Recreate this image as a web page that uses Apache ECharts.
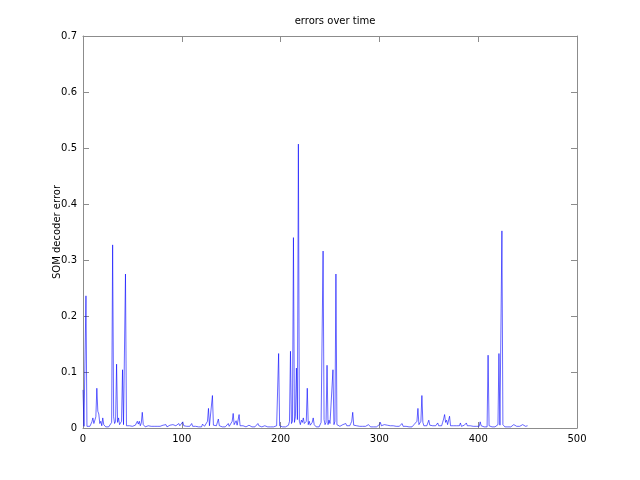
<!DOCTYPE html>
<html>
<head>
<meta charset="utf-8">
<script src="https://cdn.jsdelivr.net/npm/echarts@6/dist/echarts.min.js"></script>
<style>html,body{margin:0;padding:0;background:#fff}#c{width:640px;height:480px}</style>
</head>
<body>
<div id="c"></div>
<script>
var title = "errors over time";
var yLabel = "SOM decoder error";
var xTicks = [0, 100, 200, 300, 400, 500];
var yTicks = [0, 0.1, 0.2, 0.3, 0.4, 0.5, 0.6, 0.7];
var errors = [
0.068,0.003,0.005,0.236,0.003,0.002,0.004,0.003,0.006,0.011,
0.018,0.008,0.010,0.020,0.071,0.030,0.025,0.008,0.012,0.004,
0.018,0.006,0.003,0.002,0.004,0.003,0.002,0.005,0.003,0.010,
0.327,0.020,0.008,0.012,0.114,0.010,0.018,0.006,0.004,0.012,
0.104,0.006,0.003,0.275,0.004,0.003,0.002,0.004,0.003,0.002,
0.003,0.004,0.006,0.005,0.008,0.012,0.007,0.012,0.004,0.009,
0.028,0.006,0.003,0.002,0.003,0.002,0.004,0.003,0.002,0.003,
0.002,0.004,0.003,0.005,0.002,0.003,0.004,0.002,0.003,0.002,
0.003,0.005,0.002,0.003,0.006,0.002,0.004,0.003,0.005,0.003,
0.004,0.006,0.003,0.007,0.004,0.006,0.003,0.008,0.004,0.005,
0.003,0.011,0.004,0.006,0.002,0.003,0.004,0.002,0.003,0.004,
0.008,0.003,0.002,0.004,0.003,0.002,0.003,0.002,0.004,0.003,
0.002,0.007,0.004,0.003,0.006,0.004,0.012,0.035,0.004,0.003,
0.006,0.058,0.005,0.003,0.002,0.004,0.006,0.016,0.004,0.002,
0.003,0.002,0.004,0.003,0.002,0.003,0.004,0.008,0.003,0.002,
0.004,0.012,0.026,0.006,0.004,0.013,0.005,0.008,0.024,0.004,
0.002,0.003,0.004,0.002,0.003,0.002,0.004,0.003,0.005,0.006,
0.003,0.002,0.004,0.003,0.002,0.004,0.005,0.008,0.004,0.003,
0.004,0.002,0.003,0.005,0.004,0.002,0.003,0.002,0.004,0.003,
0.002,0.003,0.004,0.002,0.003,0.002,0.004,0.006,0.133,0.004,
0.002,0.003,0.002,0.004,0.003,0.002,0.003,0.004,0.005,0.012,
0.137,0.008,0.012,0.340,0.010,0.020,0.107,0.015,0.507,0.012,
0.006,0.014,0.010,0.018,0.008,0.005,0.012,0.071,0.006,0.012,
0.005,0.004,0.010,0.018,0.006,0.003,0.002,0.004,0.003,0.002,
0.004,0.010,0.012,0.316,0.015,0.006,0.010,0.112,0.006,0.014,
0.008,0.005,0.010,0.104,0.006,0.012,0.275,0.006,0.004,0.008,
0.003,0.002,0.004,0.006,0.003,0.005,0.008,0.004,0.003,0.006,
0.004,0.008,0.012,0.028,0.005,0.003,0.002,0.004,0.003,0.002,
0.003,0.004,0.002,0.003,0.002,0.004,0.003,0.002,0.005,0.006,
0.004,0.002,0.003,0.005,0.002,0.003,0.004,0.002,0.003,0.004,
0.006,0.010,0.004,0.005,0.003,0.006,0.004,0.007,0.005,0.008,
0.006,0.004,0.003,0.005,0.004,0.003,0.007,0.003,0.002,0.004,
0.003,0.005,0.004,0.008,0.003,0.002,0.004,0.003,0.002,0.003,
0.002,0.004,0.003,0.002,0.004,0.006,0.003,0.004,0.012,0.035,
0.006,0.004,0.012,0.058,0.010,0.004,0.003,0.005,0.004,0.006,
0.014,0.005,0.003,0.002,0.004,0.003,0.002,0.004,0.006,0.009,
0.004,0.003,0.006,0.004,0.010,0.016,0.024,0.010,0.014,0.006,
0.008,0.021,0.004,0.003,0.002,0.004,0.003,0.005,0.004,0.003,
0.002,0.004,0.009,0.003,0.002,0.004,0.005,0.003,0.009,0.004,
0.003,0.006,0.004,0.002,0.005,0.003,0.004,0.002,0.003,0.004,
0.005,0.003,0.011,0.004,0.002,0.003,0.002,0.004,0.003,0.002,
0.130,0.004,0.002,0.003,0.002,0.003,0.004,0.002,0.003,0.002,
0.006,0.133,0.005,0.004,0.352,0.006,0.003,0.002,0.004,0.003,
0.002,0.003,0.004,0.002,0.005,0.004,0.006,0.007,0.004,0.003,
0.002,0.004,0.003,0.005,0.002,0.006,0.004,0.007,0.003,0.002,
0.004
];

var seriesData = errors.map(function (v, i) { return [i, v]; });
var font = 'DejaVu Sans';
var frameColor = '#8c8c8c';

function axisCommon(extra) {
  var base = {
    axisLine: { show: true, onZero: false, lineStyle: { color: frameColor, width: 1 } },
    axisTick: { show: true, inside: true, length: 6, lineStyle: { color: frameColor } },
    splitLine: { show: false },
    axisLabel: { show: false }
  };
  for (var k in extra) base[k] = extra[k];
  return base;
}

var chart = echarts.init(document.getElementById('c'), null, { renderer: 'canvas' });
chart.setOption({
  animation: false,
  backgroundColor: '#ffffff',
  title: {
    text: title, left: 330, top: 11, textAlign: 'center',
    textStyle: { fontFamily: font, fontSize: 10, fontWeight: 'normal', color: '#000' }
  },
  grid: { left: 83, right: 63, top: 36, bottom: 52, containLabel: false },
  xAxis: [
    axisCommon({
      type: 'value', min: xTicks[0], max: xTicks[xTicks.length - 1], interval: 100, position: 'bottom',
      axisLabel: { show: true, color: '#000', fontFamily: font, fontSize: 10, margin: 6 }
    }),
    axisCommon({ type: 'value', min: xTicks[0], max: xTicks[xTicks.length - 1], interval: 100, position: 'top' })
  ],
  yAxis: [
    axisCommon({
      type: 'value', min: yTicks[0], max: yTicks[yTicks.length - 1], interval: 0.1, position: 'left',
      name: yLabel, nameLocation: 'middle', nameGap: 21, nameRotate: 90, nameMoveOverlap: false,
      nameTextStyle: { color: '#000', fontFamily: font, fontSize: 10 },
      axisLabel: { show: true, color: '#000', fontFamily: font, fontSize: 10, margin: 6,
        formatter: function (v) { return String(Math.round(v * 10) / 10); } }
    }),
    axisCommon({ type: 'value', min: yTicks[0], max: yTicks[yTicks.length - 1], interval: 0.1, position: 'right' })
  ],
  series: [{
    type: 'line', xAxisIndex: 0, yAxisIndex: 0,
    data: seriesData, showSymbol: false, symbol: 'none',
    lineStyle: { color: '#0000ff', width: 0.6 },
    silent: true
  }]
});
</script>
</body>
</html>
